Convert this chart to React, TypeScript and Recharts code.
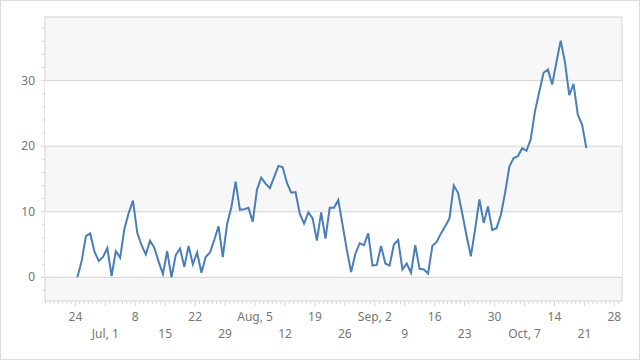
import { LineChart, Line, XAxis, YAxis, ReferenceArea, ReferenceLine } from "recharts";

// daily values, first one on Jun 24
const VALUES = [
  0, 2.5, 6.3, 6.7, 3.9, 2.5, 3.1, 4.5, 0.2, 4.0,
  3.0, 7.4, 9.8, 11.7, 6.8, 4.9, 3.5, 5.6, 4.5, 2.4,
  0.5, 4.0, 0.0, 3.4, 4.4, 1.6, 4.8, 2.0, 3.8, 0.7,
  3.1, 3.8, 5.7, 7.8, 3.1, 8.1, 10.7, 14.6, 10.3, 10.4,
  10.6, 8.5, 13.4, 15.2, 14.3, 13.6, 15.3, 17.0, 16.8, 14.4,
  12.9, 13.0, 9.7, 8.2, 9.9, 9.0, 5.6, 9.9, 5.9, 10.6,
  10.6, 11.8, 8.0, 4.2, 0.8, 3.6, 5.2, 4.9, 6.7, 1.8,
  1.9, 4.8, 2.1, 1.8, 5.0, 5.7, 1.2, 2.1, 0.7, 4.9,
  1.3, 1.2, 0.6, 4.8, 5.4, 6.7, 7.8, 9.0, 14.0, 12.9,
  9.7, 6.3, 3.2, 7.4, 11.9, 8.3, 10.8, 7.2, 7.5, 9.5,
  12.9, 16.9, 18.2, 18.5, 19.7, 19.3, 21.1, 25.4, 28.3, 31.2,
  31.7, 29.4, 32.8, 36.1, 32.8, 27.8, 29.5, 24.8, 23.3, 19.7,
];

// one label per week, starting Jun 24 (day 0)
const WEEK_LABELS = [
  "24", "Jul, 1", "8", "15", "22", "29", "Aug, 5", "12", "19", "26",
  "Sep, 2", "9", "16", "23", "30", "Oct, 7", "14", "21", "28",
];
const Y_LABELS = [0, 10, 20, 30];
const WHITE_BANDS = [[0, 10], [20, 30]];

const SAMPLE_TIME = 11 / 24; // readings are taken late morning
const X_DOMAIN = [-7.11, 127.79];
const Y_DOMAIN = [-3.61, 39.71];

const AXIS = "#d3d3d3";
const LABEL = "#767676";
const FONT = "'Segoe UI', 'Noto Sans', sans-serif";

const data = VALUES.map((v, i) => ({ day: i + SAMPLE_TIME, value: v }));
const weekTicks = WEEK_LABELS.map((_, i) => i * 7);
const dayTicks: number[] = [];
for (let d = Math.ceil(X_DOMAIN[0]); d <= X_DOMAIN[1]; d++) dayTicks.push(d);
const yTicks: number[] = [];
for (let v = -2; v <= 38; v += 2) yTicks.push(v);

function DayTick({ x, y, payload }: any) {
  const w = weekTicks.indexOf(payload.value);
  if (w < 0) return <line x1={x} x2={x} y1={y} y2={y + 3} stroke={AXIS} />;
  return (
    <g>
      <line x1={x} x2={x} y1={y} y2={y + 5} stroke={AXIS} />
      <text x={x} y={y + (w % 2 === 0 ? 20 : 37)} textAnchor="middle" fill={LABEL} fontSize={12} fontFamily={FONT}>
        {WEEK_LABELS[w]}
      </text>
    </g>
  );
}

function ValueTick({ x, y, payload }: any) {
  const major = Y_LABELS.includes(payload.value);
  return (
    <g>
      <line x1={x - (major ? 4 : 3)} x2={x} y1={y} y2={y} stroke={AXIS} />
      {major && (
        <text x={x - 10} y={y + 4} textAnchor="end" fill={LABEL} fontSize={12} fontFamily={FONT}>
          {payload.value}
        </text>
      )}
    </g>
  );
}

export default function App() {
  return (
    <div style={{ position: "absolute", left: 0, top: 0, width: 640, height: 360, background: "#fff" }}>
      <div
        style={{
          position: "absolute",
          inset: 0,
          border: "1px solid #dcdcdc",
          boxSizing: "border-box",
          pointerEvents: "none",
        }}
      />
      <LineChart width={640} height={360} data={data} margin={{ top: 17, right: 18, left: 0, bottom: 0 }}>
        <XAxis
          dataKey="day"
          type="number"
          domain={X_DOMAIN}
          allowDataOverflow
          ticks={dayTicks}
          interval={0}
          height={59}
          tickSize={0}
          tickMargin={0}
          tickLine={false}
          axisLine={false}
          tick={<DayTick />}
        />
        <YAxis
          type="number"
          domain={Y_DOMAIN}
          allowDataOverflow
          ticks={yTicks}
          interval={0}
          width={45}
          tickSize={0}
          tickMargin={0}
          tickLine={false}
          axisLine={false}
          tick={<ValueTick />}
        />
        <ReferenceArea
          x1={X_DOMAIN[0]}
          x2={X_DOMAIN[1]}
          y1={Y_DOMAIN[0]}
          y2={Y_DOMAIN[1]}
          fill="#f7f7f7"
          fillOpacity={1}
          stroke={AXIS}
          ifOverflow="visible"
        />
        {WHITE_BANDS.map(([a, b]) => (
          <ReferenceArea key={a} y1={a} y2={b} fill="#ffffff" fillOpacity={1} stroke="none" />
        ))}
        {Y_LABELS.map((v) => (
          <ReferenceLine key={v} y={v} stroke={AXIS} strokeWidth={1} />
        ))}
        <Line
          type="linear"
          dataKey="value"
          stroke="#4a7ebb"
          strokeWidth={2}
          dot={false}
          isAnimationActive={false}
        />
      </LineChart>
    </div>
  );
}
